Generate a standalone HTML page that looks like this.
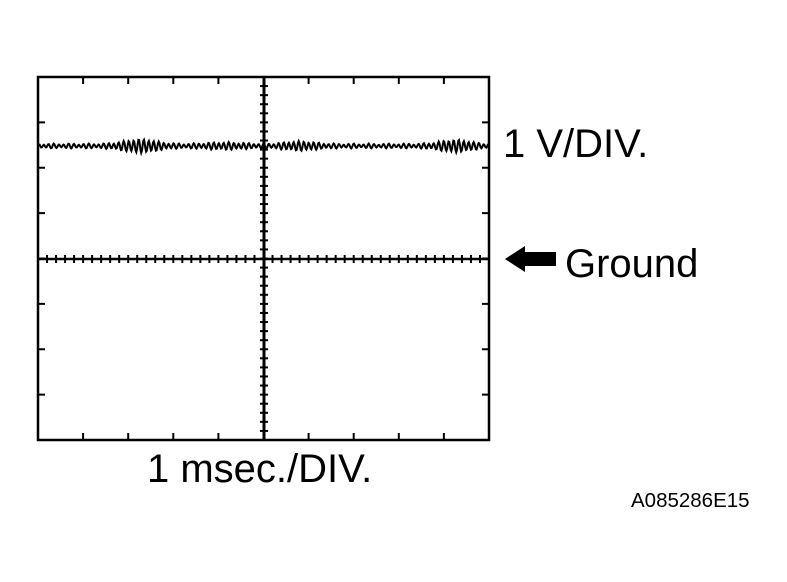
<!DOCTYPE html>
<html><head><meta charset="utf-8"><style>
html,body{margin:0;padding:0;background:#fff;}
svg{display:block;}
text{font-family:"Liberation Sans",Arial,sans-serif;fill:#000;}
</style></head><body>
<svg id="s" width="787" height="582" viewBox="0 0 787 582" xmlns="http://www.w3.org/2000/svg">
<rect x="38" y="77" width="451" height="363" fill="none" stroke="#000" stroke-width="2.5"/>
<line x1="38" y1="259" x2="489" y2="259" stroke="#000" stroke-width="2.5"/>
<line x1="264" y1="77" x2="264" y2="440" stroke="#000" stroke-width="3"/>
<g id="ticks" stroke="#000" stroke-width="2"></g>
<polyline id="sig" fill="none" stroke="#000" stroke-width="2" points=""/>
<text x="503" y="157" font-size="40">1 V/DIV.</text>
<polygon points="505,259 525,246 525,252 556,252 556,266 525,266 525,272" fill="#000"/>
<text x="565" y="277" font-size="40">Ground</text>
<text x="147" y="482" font-size="40">1 msec./DIV.</text>
<text x="631" y="507" font-size="20.5">A085286E15</text>
</svg>
<script>
var g=document.getElementById('ticks'),ns='http://www.w3.org/2000/svg';
function L(a,b,c,d){var l=document.createElementNS(ns,'line');l.setAttribute('x1',a);l.setAttribute('y1',b);l.setAttribute('x2',c);l.setAttribute('y2',d);g.appendChild(l);}
var x0=38,x1=489,y0=77,y1=440;
var dx=(x1-x0)/10,dy=(y1-y0)/8;
for(var i=1;i<10;i++){var x=x0+i*dx;L(x,y0,x,y0+7);L(x,y1,x,y1-7);}
for(var j=1;j<8;j++){var y=y0+j*dy;L(x0,y,x0+7,y);L(x1,y,x1-7,y);}
for(var i=1;i<50;i++){var x=x0+i*dx/5;L(x,255,x,263);}
for(var j=1;j<40;j++){var y=y0+j*dy/5;L(260,y,268,y);}
var pts=[];
function env(x){var a=1.8;a+=4.5*Math.exp(-Math.pow((x-140)/22,2));a+=2.5*Math.exp(-Math.pow((x-300)/20,2));a+=4*Math.exp(-Math.pow((x-455)/20,2));a+=1.5*Math.exp(-Math.pow((x-225)/25,2));return a;}
for(var x=39;x<=489;x+=0.7){var y=146+env(x)*Math.sin(x*2*Math.PI/5)+0.6*Math.sin(x*0.9);pts.push(x.toFixed(1)+','+y.toFixed(1));}
document.getElementById('sig').setAttribute('points',pts.join(' '));
</script>
</body></html>
